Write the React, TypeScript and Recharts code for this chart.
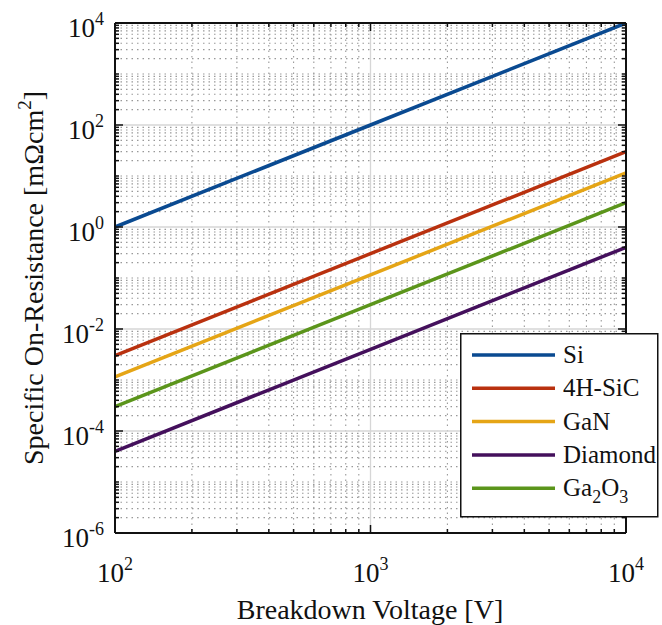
import React from 'react';
import { LineChart, Line, XAxis, YAxis, CartesianGrid, Legend, Label } from 'recharts';

// breakdown voltage [V]
const voltages = [100, 1000, 10000];

// specific on-resistance [mOhm cm^2] per material
const si = [1, 100, 10000];
const sic4h = [0.003, 0.3, 30];
const gan = [0.00115, 0.115, 11.5];
const diamond = [0.00004, 0.004, 0.4];
const ga2o3 = [0.0003, 0.03, 3];

const xMajorTicks = [100, 1000, 10000];
const yMajorTicks = [1e-6, 1e-4, 1e-2, 1, 1e2, 1e4];
const decadesX = [100, 1000];
const decadesY = [1e-6, 1e-5, 1e-4, 1e-3, 1e-2, 1e-1, 1, 10, 100, 1000];
const mult = [2, 3, 4, 5, 6, 7, 8, 9];

const xMinorTicks = decadesX.flatMap((d) => mult.map((m) => m * d));
const yMinorTicks = decadesY.flatMap((d) => {
  const odd = Math.round(Math.log10(d)) % 2 !== 0;
  return (odd ? [1, ...mult] : mult).map((m) => m * d);
});

const series = [
  { key: 'si', name: 'Si', color: '#0a4a91', values: si },
  { key: 'sic', name: '4H-SiC', color: '#b9310f', values: sic4h },
  { key: 'gan', name: 'GaN', color: '#e5a516', values: gan },
  { key: 'dia', name: 'Diamond', color: '#44105c', values: diamond },
  { key: 'gao', name: 'Ga2O3', color: '#5b951b', values: ga2o3 },
];

const data = voltages.map((v, i) => {
  const row: Record<string, number> = { v };
  series.forEach((s) => (row[s.key] = s.values[i]));
  return row;
});

const serif = { fontFamily: '"Liberation Serif", serif' };

const exp10 = (v: number) => Math.round(Math.log10(v));

function YTick(props: any) {
  const { x, y, payload } = props;
  return (
    <text x={x - 19} y={y + 14} textAnchor="end" style={serif} fontSize={27} fill="#111">
      10
      <tspan dy={-12} fontSize={18}>{exp10(payload.value)}</tspan>
    </text>
  );
}

function XTick(props: any) {
  const { x, y, payload } = props;
  return (
    <text x={x} y={y + 57} textAnchor="middle" style={serif} fontSize={27} fill="#111">
      10
      <tspan dy={-12} fontSize={18}>{exp10(payload.value)}</tspan>
    </text>
  );
}

const NoTick = () => <g />;

function LegendBox() {
  return (
    <svg width={200} height={185} style={{ display: 'block' }}>
      <rect x={0.75} y={0.75} width={197} height={183} fill="#fff" stroke="#111" strokeWidth={1.5} />
      {series.map((it, i) => {
        const cy = 22 + i * 33.3;
        const sub = it.name === 'Ga2O3';
        return (
          <g key={it.key}>
            <line x1={12} x2={95} y1={cy} y2={cy} stroke={it.color} strokeWidth={3.5} />
            <text x={103} y={cy + 8} style={serif} fontSize={25} fill="#111">
              {sub ? (
                <>
                  Ga<tspan dy={7} fontSize={18}>2</tspan>
                  <tspan dy={-7}>O</tspan>
                  <tspan dy={7} fontSize={18}>3</tspan>
                </>
              ) : (
                it.name
              )}
            </text>
          </g>
        );
      })}
    </svg>
  );
}

const axisStroke = { stroke: '#111', strokeWidth: 2 };
const tickStroke = { stroke: '#111', strokeWidth: 1.5 };

export default function App() {
  return (
    <div style={{ position: 'absolute', left: 0, top: 0, background: '#fff' }}>
      <LineChart width={662} height={625} data={data} margin={{ top: 21, right: 34, bottom: 90, left: 113 }}>
        <CartesianGrid xAxisId="bm" yAxisId="lm" stroke="#999" strokeDasharray="1.5 4" strokeWidth={1.1} />
        <CartesianGrid xAxisId="b" yAxisId="l" stroke="#d6d6d6" strokeWidth={1.3} />

        <XAxis xAxisId="b" dataKey="v" type="number" scale="log" domain={[100, 10000]} allowDataOverflow
          ticks={xMajorTicks} interval={0} height={1} tickSize={-8} tickMargin={0}
          axisLine={axisStroke} tickLine={tickStroke} tick={<XTick />}>
          <Label
            content={() => (
              <text x={370} y={619} textAnchor="middle" style={serif} fontSize={28} fill="#111">
                Breakdown Voltage [V]
              </text>
            )}
          />
        </XAxis>
        <XAxis xAxisId="bm" dataKey="v" type="number" scale="log" domain={[100, 10000]} allowDataOverflow
          ticks={xMinorTicks} interval={0} height={1} tickSize={-5} axisLine={false}
          tickLine={tickStroke} tick={<NoTick />} />
        <XAxis xAxisId="t" orientation="top" dataKey="v" type="number" scale="log" domain={[100, 10000]} allowDataOverflow
          ticks={xMajorTicks} interval={0} height={1} tickSize={-8}
          axisLine={axisStroke} tickLine={tickStroke} tick={<NoTick />} />
        <XAxis xAxisId="tm" orientation="top" dataKey="v" type="number" scale="log" domain={[100, 10000]} allowDataOverflow
          ticks={xMinorTicks} interval={0} height={1} tickSize={-5} axisLine={false}
          tickLine={tickStroke} tick={<NoTick />} />

        <YAxis yAxisId="l" type="number" scale="log" domain={[1e-6, 1e4]} allowDataOverflow
          ticks={yMajorTicks} interval={0} width={1} tickSize={-8} tickMargin={0}
          axisLine={axisStroke} tickLine={tickStroke} tick={<YTick />}>
          <Label
            content={() => (
              <text transform="rotate(-90)" x={-278} y={43} textAnchor="middle" style={serif} fontSize={28} fill="#111">
                Specific On-Resistance [mΩcm
                <tspan dy={-12} fontSize={19}>2</tspan>
                <tspan dy={12}>]</tspan>
              </text>
            )}
          />
        </YAxis>
        <YAxis yAxisId="lm" type="number" scale="log" domain={[1e-6, 1e4]} allowDataOverflow
          ticks={yMinorTicks} interval={0} width={1} tickSize={-5} axisLine={false}
          tickLine={tickStroke} tick={<NoTick />} />
        <YAxis yAxisId="r" orientation="right" type="number" scale="log" domain={[1e-6, 1e4]} allowDataOverflow
          ticks={yMajorTicks} interval={0} width={1} tickSize={-8}
          axisLine={axisStroke} tickLine={tickStroke} tick={<NoTick />} />
        <YAxis yAxisId="rm" orientation="right" type="number" scale="log" domain={[1e-6, 1e4]} allowDataOverflow
          ticks={yMinorTicks} interval={0} width={1} tickSize={-5} axisLine={false}
          tickLine={tickStroke} tick={<NoTick />} />

        {series.map((s) => (
          <Line key={s.key} xAxisId="b" yAxisId="l" type="linear" dataKey={s.key} name={s.name}
            stroke={s.color} strokeWidth={3.5} dot={false} isAnimationActive={false} />
        ))}

        <Legend layout="horizontal" verticalAlign="middle" align="center" content={<LegendBox />}
          wrapperStyle={{ position: 'absolute', left: 460, top: 333, width: 200, height: 185 }} />
      </LineChart>
    </div>
  );
}
